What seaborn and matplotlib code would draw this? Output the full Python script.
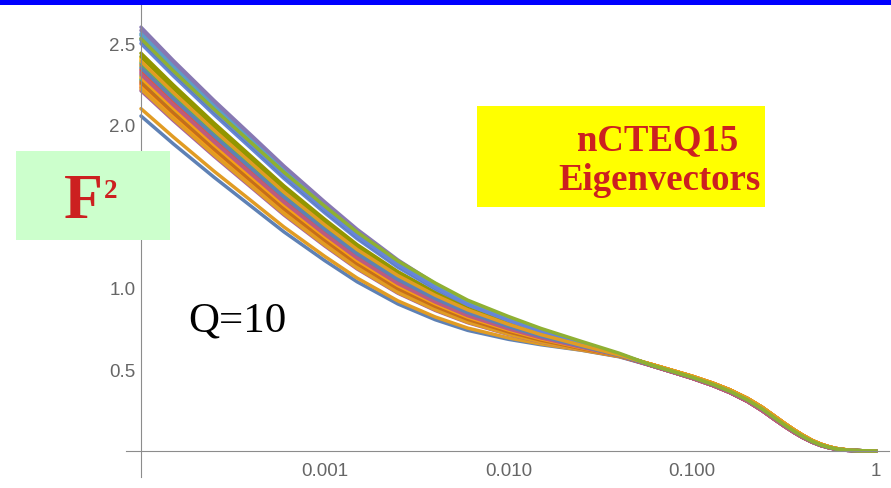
import numpy as np
import pandas as pd
import matplotlib
matplotlib.use("Agg")
import matplotlib.pyplot as plt
from matplotlib.patches import Rectangle
from matplotlib.ticker import FixedLocator, LogLocator, MultipleLocator, NullFormatter
import seaborn as sns

W, H, DPI = 891, 489, 100

# Bjorken-x sampling: small-x region (sets differ) and large-x region (sets agree)
x_low = [1e-4, 1.5e-4, 2.5e-4, 4e-4, 6e-4, 1e-3, 1.5e-3, 2.5e-3, 4e-3, 6e-3,
         1e-2, 1.5e-2, 2.5e-2, 4e-2]
x_high = [0.06, 0.08, 0.1, 0.13, 0.16, 0.2, 0.24, 0.28, 0.32, 0.36, 0.4, 0.45,
          0.5, 0.55, 0.6, 0.7, 0.8, 1.0]

# F2 at large x: three nearly coincident branches
tail_hi = [0.531, 0.490, 0.458, 0.415, 0.375, 0.322, 0.268, 0.214, 0.167, 0.128,
           0.096, 0.064, 0.042, 0.027, 0.016, 0.006, 0.002, 0.0]
tail_mid = [0.527, 0.485, 0.452, 0.408, 0.367, 0.313, 0.258, 0.204, 0.158, 0.120,
            0.089, 0.059, 0.038, 0.024, 0.014, 0.005, 0.002, 0.0]
tail_lo = [0.523, 0.480, 0.446, 0.401, 0.359, 0.304, 0.248, 0.194, 0.149, 0.112,
           0.082, 0.054, 0.034, 0.021, 0.012, 0.004, 0.002, 0.0]

# F2 at small x for each eigenvector set
ev00 = [2.055, 1.884, 1.679, 1.499, 1.344, 1.168, 1.038, 0.902, 0.805, 0.740, 0.685, 0.652, 0.618, 0.578]
ev01 = [2.100, 1.926, 1.716, 1.533, 1.374, 1.194, 1.061, 0.921, 0.822, 0.754, 0.694, 0.657, 0.619, 0.580]
ev02 = [2.300, 2.112, 1.887, 1.689, 1.518, 1.322, 1.176, 1.021, 0.908, 0.826, 0.745, 0.691, 0.634, 0.585]
ev03 = [2.230, 2.046, 1.825, 1.630, 1.463, 1.271, 1.129, 0.978, 0.871, 0.795, 0.721, 0.673, 0.624, 0.582]
ev04 = [2.600, 2.395, 2.150, 1.935, 1.748, 1.528, 1.360, 1.172, 1.025, 0.912, 0.810, 0.738, 0.662, 0.595]
ev05 = [2.270, 2.084, 1.861, 1.664, 1.494, 1.300, 1.156, 1.003, 0.892, 0.812, 0.735, 0.683, 0.630, 0.584]
ev06 = [2.550, 2.348, 2.107, 1.894, 1.710, 1.495, 1.331, 1.150, 1.009, 0.902, 0.803, 0.733, 0.659, 0.594]
ev07 = [2.400, 2.207, 1.976, 1.772, 1.596, 1.394, 1.243, 1.082, 0.960, 0.870, 0.780, 0.717, 0.649, 0.589]
ev08 = [2.210, 2.027, 1.808, 1.615, 1.448, 1.258, 1.117, 0.968, 0.862, 0.787, 0.715, 0.669, 0.622, 0.581]
ev09 = [2.440, 2.245, 2.011, 1.805, 1.626, 1.421, 1.266, 1.100, 0.973, 0.878, 0.786, 0.721, 0.652, 0.590]
ev10 = [2.250, 2.065, 1.843, 1.647, 1.479, 1.286, 1.142, 0.990, 0.882, 0.803, 0.728, 0.678, 0.627, 0.583]
ev11 = [2.500, 2.301, 2.063, 1.854, 1.672, 1.461, 1.302, 1.127, 0.993, 0.891, 0.795, 0.728, 0.656, 0.592]
ev12 = [2.240, 2.055, 1.834, 1.639, 1.471, 1.278, 1.135, 0.984, 0.876, 0.799, 0.724, 0.675, 0.625, 0.583]
ev13 = [2.320, 2.131, 1.905, 1.705, 1.533, 1.336, 1.189, 1.033, 0.918, 0.835, 0.752, 0.696, 0.637, 0.586]
ev14 = [2.280, 2.093, 1.869, 1.672, 1.502, 1.307, 1.162, 1.009, 0.897, 0.817, 0.738, 0.686, 0.631, 0.584]
ev15 = [2.520, 2.320, 2.080, 1.870, 1.687, 1.474, 1.313, 1.136, 0.999, 0.895, 0.798, 0.730, 0.657, 0.593]
ev16 = [2.220, 2.036, 1.816, 1.622, 1.455, 1.264, 1.122, 0.972, 0.866, 0.790, 0.717, 0.670, 0.622, 0.581]
ev17 = [2.360, 2.169, 1.941, 1.739, 1.565, 1.365, 1.216, 1.058, 0.939, 0.852, 0.766, 0.707, 0.643, 0.587]
ev18 = [2.370, 2.179, 1.949, 1.747, 1.573, 1.372, 1.223, 1.064, 0.944, 0.857, 0.770, 0.709, 0.645, 0.588]
ev19 = [2.580, 2.376, 2.133, 1.919, 1.733, 1.515, 1.348, 1.163, 1.019, 0.908, 0.807, 0.736, 0.661, 0.594]
ev20 = [2.260, 2.074, 1.852, 1.655, 1.486, 1.293, 1.149, 0.996, 0.887, 0.808, 0.731, 0.680, 0.628, 0.584]
ev21 = [2.560, 2.357, 2.115, 1.902, 1.718, 1.501, 1.337, 1.154, 1.012, 0.904, 0.804, 0.734, 0.659, 0.594]
ev22 = [2.410, 2.216, 1.985, 1.780, 1.604, 1.401, 1.249, 1.087, 0.963, 0.872, 0.782, 0.718, 0.650, 0.589]
ev23 = [2.330, 2.141, 1.914, 1.714, 1.541, 1.343, 1.196, 1.039, 0.923, 0.839, 0.756, 0.699, 0.639, 0.586]
ev24 = [2.420, 2.226, 1.993, 1.788, 1.611, 1.407, 1.255, 1.091, 0.967, 0.874, 0.783, 0.719, 0.650, 0.590]
ev25 = [2.340, 2.150, 1.923, 1.722, 1.549, 1.351, 1.203, 1.045, 0.929, 0.843, 0.759, 0.701, 0.640, 0.587]
ev26 = [2.530, 2.329, 2.089, 1.878, 1.695, 1.481, 1.319, 1.141, 1.002, 0.897, 0.800, 0.731, 0.658, 0.593]
ev27 = [2.290, 2.103, 1.878, 1.680, 1.510, 1.315, 1.169, 1.015, 0.903, 0.821, 0.742, 0.688, 0.633, 0.585]
ev28 = [2.310, 2.122, 1.896, 1.697, 1.526, 1.329, 1.183, 1.027, 0.913, 0.830, 0.749, 0.694, 0.636, 0.586]
ev29 = [2.380, 2.188, 1.958, 1.755, 1.580, 1.380, 1.230, 1.070, 0.950, 0.861, 0.773, 0.712, 0.646, 0.588]
ev30 = [2.350, 2.160, 1.932, 1.730, 1.557, 1.358, 1.209, 1.051, 0.934, 0.848, 0.763, 0.704, 0.642, 0.587]
ev31 = [2.390, 2.198, 1.967, 1.764, 1.588, 1.387, 1.236, 1.076, 0.955, 0.866, 0.777, 0.714, 0.648, 0.589]
ev32 = [2.530, 2.332, 2.096, 1.889, 1.710, 1.502, 1.343, 1.166, 1.030, 0.925, 0.825, 0.752, 0.672, 0.600]

low_sets = [ev00, ev01, ev02, ev03, ev04, ev05, ev06, ev07, ev08, ev09, ev10,
            ev11, ev12, ev13, ev14, ev15, ev16, ev17, ev18, ev19, ev20, ev21,
            ev22, ev23, ev24, ev25, ev26, ev27, ev28, ev29, ev30, ev31, ev32]

tail_choice = ["lo", "hi", "mid", "hi", "lo", "hi", "mid", "hi", "lo", "mid", "lo",
               "lo", "hi", "lo", "mid", "mid", "hi", "mid", "hi", "lo", "hi", "mid",
               "hi", "lo", "mid", "lo", "mid", "hi", "lo", "mid", "mid", "hi", "mid"]

# Mathematica default line colours, cycled over the sets
base_colors = ["#5E81B5", "#E19C24", "#8FB032", "#EB6235", "#8778B3",
               "#C56E1A", "#5D9EC7", "#FFBF00", "#A5609D", "#929600",
               "#E95536", "#6685D9", "#F89F13", "#BC5B80", "#47B66D"]

tails = {"hi": tail_hi, "mid": tail_mid, "lo": tail_lo}
rows = []
for i, (low, tc) in enumerate(zip(low_sets, tail_choice)):
    name = f"ev{i:02d}"
    for xv, fv in zip(x_low + x_high, low + tails[tc]):
        rows.append((name, xv, fv))
df = pd.DataFrame(rows, columns=["set", "x", "F2"])
palette = [base_colors[i % len(base_colors)] for i in range(len(low_sets))]

sns.set_style("white")
plt.rcParams["font.family"] = ["Liberation Sans", "DejaVu Sans"]

fig = plt.figure(figsize=(W / DPI, H / DPI), dpi=DPI)
ax = fig.add_axes([126 / W, 11 / H, 763 / W, 473 / H])

sns.lineplot(data=df, x="x", y="F2", hue="set", palette=palette, legend=False,
             estimator=None, linewidth=2.5, ax=ax)
for line in ax.get_lines():
    line.set_solid_capstyle("round")
    line.set_solid_joinstyle("round")

ax.set_xscale("log")
ax.set_xlim(10 ** -4.0815, 10 ** 0.0707)
ax.set_ylim(-0.1595, 2.742)
ax.set_xlabel("")
ax.set_ylabel("")

for side in ("top", "right"):
    ax.spines[side].set_visible(False)
ax.spines["left"].set_position(("data", 1e-4))
ax.spines["bottom"].set_position(("data", 0.0))
for side in ("left", "bottom"):
    ax.spines[side].set_color("#8c8c8c")
    ax.spines[side].set_linewidth(0.8)

ax.xaxis.set_major_locator(FixedLocator([1e-4, 1e-3, 1e-2, 1e-1, 1.0]))
ax.set_xticklabels(["", "0.001", "0.010", "0.100", "1"])
ax.xaxis.set_minor_locator(LogLocator(base=10, subs=np.arange(2, 10), numticks=100))
ax.xaxis.set_minor_formatter(NullFormatter())

ax.yaxis.set_major_locator(FixedLocator([0.5, 1.0, 1.5, 2.0, 2.5]))
ax.set_yticklabels(["0.5", "1.0", "1.5", "2.0", "2.5"])
ax.yaxis.set_minor_locator(MultipleLocator(0.1))

ax.tick_params(axis="x", which="major", direction="in", length=5, width=0.8,
               color="#8c8c8c", labelcolor="#666666", labelsize=13.5, pad=8)
ax.tick_params(axis="x", which="minor", direction="in", length=2.3, width=0.7,
               color="#8c8c8c")
ax.tick_params(axis="y", which="major", direction="in", length=3.5, width=0.8,
               color="#8c8c8c", labelcolor="#666666", labelsize=13.5, pad=4)
ax.tick_params(axis="y", which="minor", direction="in", length=2.0, width=0.7,
               color="#8c8c8c")


def fx(px):
    return px / W


def fy(py):
    return 1 - py / H


red = "#CC2020"
serif = ["Liberation Serif", "DejaVu Serif"]

# header bar
fig.add_artist(Rectangle((0, fy(5.5)), 1, 5.5 / H, transform=fig.transFigure,
                         facecolor="#0000FF", edgecolor="none", zorder=5))
# label boxes
fig.add_artist(Rectangle((fx(16), fy(241)), 154 / W, 89 / H, transform=fig.transFigure,
                         facecolor="#CCFFCC", edgecolor="none", zorder=5))
fig.add_artist(Rectangle((fx(477), fy(208)), 288 / W, 101 / H, transform=fig.transFigure,
                         facecolor="#FFFF00", edgecolor="none", zorder=5))

fig.text(fx(64), fy(218), "F", fontsize=46, fontweight="bold", family=serif,
         color=red, ha="left", va="baseline", zorder=6)
fig.text(fx(104), fy(198), "2", fontsize=19.5, fontweight="bold", family=serif,
         color=red, ha="left", va="baseline", zorder=6)
fig.text(fx(658), fy(150), "nCTEQ15", fontsize=26.5, fontweight="bold", family=serif,
         color=red, ha="center", va="baseline", zorder=6)
fig.text(fx(659), fy(190), "Eigenvectors", fontsize=26.5, fontweight="bold", family=serif,
         color=red, ha="center", va="baseline", zorder=6)
fig.text(fx(188), fy(332), "Q=10", fontsize=31, family=serif,
         color="black", ha="left", va="baseline", zorder=6)

fig.savefig("out.png", dpi=DPI)
